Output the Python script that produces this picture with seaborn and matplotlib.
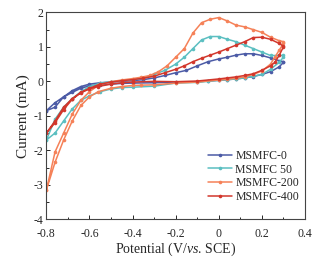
import matplotlib
matplotlib.use("Agg")
import matplotlib.pyplot as plt
import seaborn as sns
import pandas as pd
from matplotlib.ticker import MultipleLocator

sns.set_style("ticks")
plt.rcParams['font.family'] = ['Liberation Serif', 'DejaVu Serif']
plt.rcParams['mathtext.fontset'] = 'custom'
plt.rcParams['mathtext.rm'] = 'Liberation Serif'
plt.rcParams['mathtext.it'] = 'Liberation Serif:italic'

labels = ["MSMFC-0", "MSMFC 50", "MSMFC-200", "MSMFC-400"]
colors = ["#4C5BA6", "#5BBFC1", "#F58158", "#D2372C"]

# MSMFC-0
v0 = [-0.8, -0.76, -0.72, -0.68, -0.64, -0.6, -0.55, -0.5, -0.45, -0.4, -0.35, -0.3, -0.25, -0.2, -0.15, -0.1, -0.05, 0.0, 0.04, 0.08, 0.12, 0.16, 0.2, 0.24, 0.28, 0.3,
      0.3, 0.28, 0.24, 0.2, 0.16, 0.12, 0.08, 0.04, 0.0, -0.05, -0.1, -0.2, -0.3, -0.4, -0.45, -0.5, -0.55, -0.6, -0.64, -0.68, -0.72, -0.76, -0.8]
i0 = [-0.85, -0.75, -0.45, -0.27, -0.15, -0.08, -0.04, -0.02, 0.0, 0.02, 0.05, 0.1, 0.17, 0.25, 0.32, 0.45, 0.57, 0.65, 0.7, 0.76, 0.8, 0.8, 0.75, 0.68, 0.6, 0.57,
      0.55, 0.42, 0.28, 0.2, 0.14, 0.1, 0.07, 0.05, 0.03, 0.01, -0.01, -0.02, -0.04, -0.05, -0.06, -0.08, -0.1, -0.13, -0.2, -0.32, -0.45, -0.62, -0.85]

# MSMFC 50
v1 = [-0.8, -0.76, -0.72, -0.68, -0.64, -0.6, -0.55, -0.5, -0.45, -0.4, -0.35, -0.3, -0.25, -0.2, -0.16, -0.12, -0.08, -0.04, 0.0, 0.04, 0.08, 0.12, 0.16, 0.2, 0.24, 0.28, 0.3,
      0.3, 0.28, 0.24, 0.2, 0.16, 0.12, 0.08, 0.04, 0.0, -0.05, -0.1, -0.2, -0.3, -0.4, -0.45, -0.5, -0.55, -0.6, -0.64, -0.68, -0.72, -0.76, -0.8]
i1 = [-1.7, -1.1, -0.75, -0.5, -0.3, -0.15, -0.05, -0.01, 0.02, 0.05, 0.1, 0.2, 0.32, 0.5, 0.7, 0.95, 1.2, 1.3, 1.3, 1.22, 1.15, 1.05, 0.95, 0.85, 0.75, 0.75, 0.75,
      0.7, 0.55, 0.35, 0.2, 0.15, 0.1, 0.07, 0.05, 0.03, 0.0, -0.03, -0.05, -0.14, -0.17, -0.18, -0.22, -0.3, -0.42, -0.55, -0.8, -1.15, -1.5, -1.7]

# MSMFC-200
v2 = [-0.8, -0.76, -0.72, -0.68, -0.64, -0.6, -0.56, -0.5, -0.45, -0.4, -0.36, -0.32, -0.28, -0.24, -0.2, -0.16, -0.12, -0.08, -0.04, 0.0, 0.04, 0.08, 0.12, 0.16, 0.2, 0.24, 0.28, 0.3,
      0.3, 0.28, 0.26, 0.24, 0.2, 0.16, 0.12, 0.08, 0.04, 0.0, -0.1, -0.2, -0.3, -0.36, -0.4, -0.45, -0.5, -0.56, -0.6, -0.64, -0.68, -0.72, -0.76, -0.8]
i2 = [-3.15, -2.05, -1.5, -0.95, -0.55, -0.3, -0.12, -0.01, 0.04, 0.08, 0.12, 0.17, 0.28, 0.45, 0.7, 0.95, 1.4, 1.7, 1.8, 1.85, 1.75, 1.63, 1.58, 1.5, 1.42, 1.28, 1.18, 1.15,
      1.1, 0.9, 0.7, 0.5, 0.3, 0.2, 0.13, 0.09, 0.06, 0.04, -0.02, -0.05, -0.1, -0.11, -0.12, -0.15, -0.2, -0.3, -0.45, -0.7, -1.15, -1.7, -2.35, -3.15]

# MSMFC-400
v3 = [-0.8, -0.76, -0.72, -0.68, -0.64, -0.6, -0.55, -0.5, -0.45, -0.4, -0.35, -0.3, -0.25, -0.2, -0.16, -0.12, -0.08, -0.04, 0.0, 0.04, 0.08, 0.12, 0.16, 0.2, 0.24, 0.28, 0.3,
      0.3, 0.28, 0.26, 0.24, 0.2, 0.16, 0.12, 0.08, 0.04, 0.0, -0.1, -0.2, -0.3, -0.4, -0.45, -0.5, -0.56, -0.6, -0.64, -0.68, -0.72, -0.76, -0.8]
i3 = [-1.5, -1.15, -0.75, -0.5, -0.32, -0.2, -0.08, -0.02, 0.02, 0.05, 0.09, 0.15, 0.25, 0.35, 0.45, 0.57, 0.67, 0.76, 0.85, 0.95, 1.05, 1.15, 1.27, 1.28, 1.22, 1.1, 1.02,
      1.0, 0.75, 0.55, 0.45, 0.32, 0.22, 0.17, 0.13, 0.1, 0.07, 0.01, -0.01, 0.0, -0.02, -0.04, -0.08, -0.15, -0.22, -0.33, -0.52, -0.82, -1.2, -1.5]

frames = []
for lab, v, i in zip(labels, [v0, v1, v2, v3], [i0, i1, i2, i3]):
    frames.append(pd.DataFrame({"Potential": v, "Current": i, "Sample": lab}))
df = pd.concat(frames, ignore_index=True)

fig = plt.figure(figsize=(3.29, 2.58), dpi=100)
ax = fig.add_axes([0.141, 0.150, 0.786, 0.802])
sns.lineplot(data=df, x="Potential", y="Current", hue="Sample", hue_order=labels,
             palette=colors, sort=False, estimator=None, marker="o", markersize=2.6,
             markeredgewidth=0, linewidth=1.1, ax=ax)

ax.set_xlim(-0.8, 0.4)
ax.set_ylim(-4, 2)
ax.xaxis.set_major_locator(MultipleLocator(0.2))
ax.xaxis.set_minor_locator(MultipleLocator(0.1))
ax.yaxis.set_major_locator(MultipleLocator(1))
ax.yaxis.set_minor_locator(MultipleLocator(0.5))
ax.tick_params(direction="in", which="both", labelsize=8.5, length=3, width=0.7, pad=2)
ax.tick_params(axis="x", pad=6.5)
ax.tick_params(which="minor", length=1.8)
ax.xaxis.set_major_formatter(matplotlib.ticker.FuncFormatter(lambda x, p: f"{x:.1f}" if abs(x) > 1e-9 else "0"))
ax.yaxis.set_major_formatter(matplotlib.ticker.FuncFormatter(lambda y, p: f"{int(round(y))}"))
for s in ax.spines.values():
    s.set_linewidth(0.8)
    s.set_color("#444444")
ax.set_xlabel(r"Potential (V/$\it{vs}$. SCE)", fontsize=10, labelpad=0)
ax.set_ylabel("Current (mA)", fontsize=11, labelpad=3)
leg = ax.legend(loc="lower right", bbox_to_anchor=(1.0, 0.05), frameon=False, fontsize=8.5,
                handlelength=2.0, handletextpad=0.3, labelspacing=0.15, borderaxespad=0.1)
fig.savefig("out.png", dpi=100)
